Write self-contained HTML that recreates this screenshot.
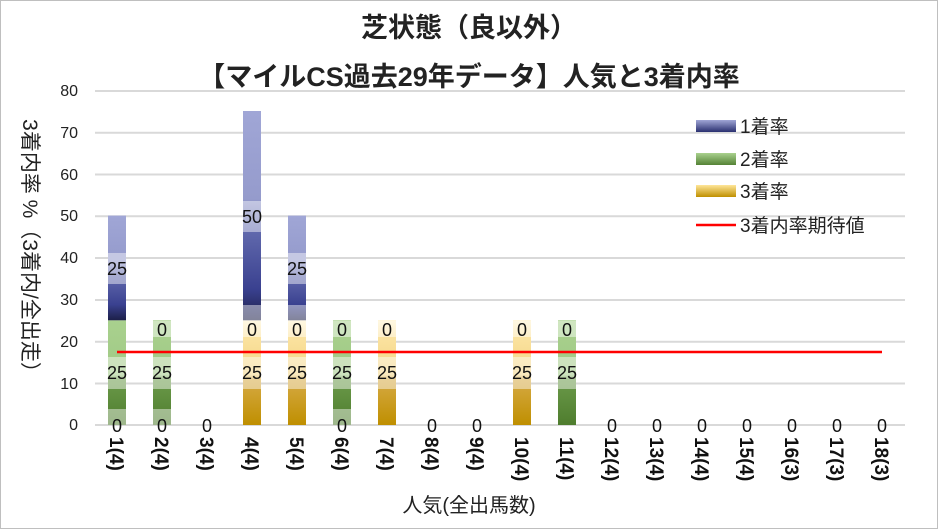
<!DOCTYPE html>
<html><head><meta charset="utf-8"><style>
html,body{margin:0;padding:0;background:#fff}
svg{display:block}
text{font-family:"Liberation Sans","Noto Sans CJK JP",sans-serif}
</style></head><body>
<svg width="938" height="529" viewBox="0 0 938 529" xmlns="http://www.w3.org/2000/svg">
<defs>
<linearGradient id="gb" x1="0" y1="0" x2="0" y2="1">
<stop offset="0" stop-color="#a0a6d6"/><stop offset="0.42" stop-color="#959bcc"/><stop offset="0.58" stop-color="#6068ac"/><stop offset="0.85" stop-color="#3a4190"/><stop offset="1" stop-color="#1c1f48"/></linearGradient>
<linearGradient id="gg" x1="0" y1="0" x2="0" y2="1">
<stop offset="0" stop-color="#a9d18e"/><stop offset="0.52" stop-color="#a0c985"/><stop offset="0.56" stop-color="#6b9a4a"/><stop offset="1" stop-color="#4f7d2e"/></linearGradient>
<linearGradient id="gy" x1="0" y1="0" x2="0" y2="1">
<stop offset="0" stop-color="#fff2cc"/><stop offset="0.15" stop-color="#fbe3a0"/><stop offset="0.52" stop-color="#f3d485"/><stop offset="0.56" stop-color="#d6aa45"/><stop offset="1" stop-color="#bf8f00"/></linearGradient>
<linearGradient id="lb" x1="0" y1="0" x2="0" y2="1"><stop offset="0" stop-color="#a0a6d6"/><stop offset="1" stop-color="#2a3070"/></linearGradient>
<linearGradient id="lg" x1="0" y1="0" x2="0" y2="1"><stop offset="0" stop-color="#a9d18e"/><stop offset="1" stop-color="#548235"/></linearGradient>
<linearGradient id="ly" x1="0" y1="0" x2="0" y2="1"><stop offset="0" stop-color="#ffe699"/><stop offset="1" stop-color="#bf8f00"/></linearGradient>
</defs>
<rect x="0.5" y="0.5" width="937" height="528" fill="#fff" stroke="#bfbfbf"/>
<text x="469" y="37" text-anchor="middle" font-size="27" font-weight="bold" fill="#222">芝状態（良以外）</text>
<text x="469" y="86" text-anchor="middle" font-size="27" font-weight="bold" fill="#222">【マイルCS過去29年データ】人気と3着内率</text>
<g stroke="#d9d9d9" stroke-width="2">
<line x1="95" x2="905" y1="91" y2="91"/><line x1="95" x2="905" y1="132.7" y2="132.7"/><line x1="95" x2="905" y1="174.5" y2="174.5"/><line x1="95" x2="905" y1="216.3" y2="216.3"/><line x1="95" x2="905" y1="258" y2="258"/><line x1="95" x2="905" y1="300" y2="300"/><line x1="95" x2="905" y1="341.7" y2="341.7"/><line x1="95" x2="905" y1="383.5" y2="383.5"/><line x1="95" x2="905" y1="425" y2="425"/>
</g>
<g font-size="16" fill="#222" text-anchor="end">
<text x="78" y="96">80</text><text x="78" y="138">70</text><text x="78" y="180">60</text><text x="78" y="221">50</text><text x="78" y="263">40</text><text x="78" y="305">30</text><text x="78" y="347">20</text><text x="78" y="389">10</text><text x="78" y="430">0</text>
</g>
<text transform="translate(23,251) rotate(90)" text-anchor="middle" font-size="21" fill="#222">3着内率 %（3着内/全出走）</text>
<g>
<rect x="108" y="320.3" width="18" height="104.7" fill="url(#gg)"/>
<rect x="153" y="320.3" width="18" height="104.7" fill="url(#gg)"/>
<rect x="333" y="320.3" width="18" height="104.7" fill="url(#gg)"/>
<rect x="558" y="320.3" width="18" height="104.7" fill="url(#gg)"/>
<rect x="243" y="320.3" width="18" height="104.7" fill="url(#gy)"/>
<rect x="288" y="320.3" width="18" height="104.7" fill="url(#gy)"/>
<rect x="378" y="320.3" width="18" height="104.7" fill="url(#gy)"/>
<rect x="513" y="320.3" width="18" height="104.7" fill="url(#gy)"/>
<rect x="108" y="215.6" width="18" height="104.7" fill="url(#gb)"/>
<rect x="243" y="111" width="18" height="209.3" fill="url(#gb)"/>
<rect x="288" y="215.6" width="18" height="104.7" fill="url(#gb)"/>
</g>
<g fill="#fff" fill-opacity="0.45">
<rect x="108" y="357" width="18" height="32"/><rect x="153" y="357" width="18" height="32"/><rect x="333" y="357" width="18" height="32"/><rect x="558" y="357" width="18" height="32"/>
<rect x="243" y="357" width="18" height="32"/><rect x="288" y="357" width="18" height="32"/><rect x="378" y="357" width="18" height="32"/><rect x="513" y="357" width="18" height="32"/>
<rect x="108" y="409" width="18" height="16"/><rect x="153" y="409" width="18" height="16"/><rect x="333" y="409" width="18" height="16"/>
<rect x="153" y="321" width="18" height="16"/><rect x="333" y="321" width="18" height="16"/><rect x="558" y="321" width="18" height="16"/>
<rect x="243" y="321" width="18" height="16"/><rect x="288" y="321" width="18" height="16"/><rect x="378" y="321" width="18" height="16"/><rect x="513" y="321" width="18" height="16"/>
<rect x="243" y="305" width="18" height="16"/><rect x="288" y="305" width="18" height="16"/>
<rect x="108" y="253" width="18" height="31"/><rect x="288" y="253" width="18" height="31"/><rect x="243" y="201" width="18" height="31"/>
</g>
<line x1="117" x2="882" y1="352" y2="352" stroke="#ff0000" stroke-width="2.5"/>
<g font-size="18" fill="#111" text-anchor="middle">
<text x="117" y="379">25</text><text x="162" y="379">25</text><text x="252" y="379">25</text><text x="297" y="379">25</text><text x="342" y="379">25</text><text x="387" y="379">25</text><text x="522" y="379">25</text><text x="567" y="379">25</text>
<text x="117" y="275">25</text><text x="297" y="275">25</text><text x="252" y="223">50</text>
<text x="162" y="336">0</text><text x="252" y="336">0</text><text x="297" y="336">0</text><text x="342" y="336">0</text><text x="387" y="336">0</text><text x="522" y="336">0</text><text x="567" y="336">0</text>
<text x="117" y="432">0</text><text x="162" y="432">0</text><text x="207" y="432">0</text><text x="342" y="432">0</text><text x="432" y="432">0</text><text x="477" y="432">0</text>
<text x="612" y="432">0</text><text x="657" y="432">0</text><text x="702" y="432">0</text><text x="747" y="432">0</text><text x="792" y="432">0</text><text x="837" y="432">0</text><text x="882" y="432">0</text>
</g>
<g font-size="19" font-weight="bold" fill="#111">
<text transform="translate(110,437) rotate(90)">1(4)</text>
<text transform="translate(155,437) rotate(90)">2(4)</text>
<text transform="translate(200,437) rotate(90)">3(4)</text>
<text transform="translate(245,437) rotate(90)">4(4)</text>
<text transform="translate(290,437) rotate(90)">5(4)</text>
<text transform="translate(335,437) rotate(90)">6(4)</text>
<text transform="translate(380,437) rotate(90)">7(4)</text>
<text transform="translate(425,437) rotate(90)">8(4)</text>
<text transform="translate(470,437) rotate(90)">9(4)</text>
<text transform="translate(515,437) rotate(90)">10(4)</text>
<text transform="translate(560,437) rotate(90)">11(4)</text>
<text transform="translate(605,437) rotate(90)">12(4)</text>
<text transform="translate(650,437) rotate(90)">13(4)</text>
<text transform="translate(695,437) rotate(90)">14(4)</text>
<text transform="translate(740,437) rotate(90)">15(4)</text>
<text transform="translate(785,437) rotate(90)">16(3)</text>
<text transform="translate(830,437) rotate(90)">17(3)</text>
<text transform="translate(875,437) rotate(90)">18(3)</text>
</g>
<text x="469" y="512" text-anchor="middle" font-size="20" fill="#222">人気(全出馬数)</text>
<rect x="696" y="120" width="40" height="12" fill="url(#lb)"/>
<rect x="696" y="153" width="40" height="12" fill="url(#lg)"/>
<rect x="696" y="185" width="40" height="12" fill="url(#ly)"/>
<line x1="696" x2="736" y1="225" y2="225" stroke="#ff0000" stroke-width="2.5"/>
<g font-size="19" fill="#222">
<text x="740" y="133">1着率</text><text x="740" y="166">2着率</text><text x="740" y="198">3着率</text><text x="740" y="232">3着内率期待値</text>
</g>
</svg>
</body></html>
